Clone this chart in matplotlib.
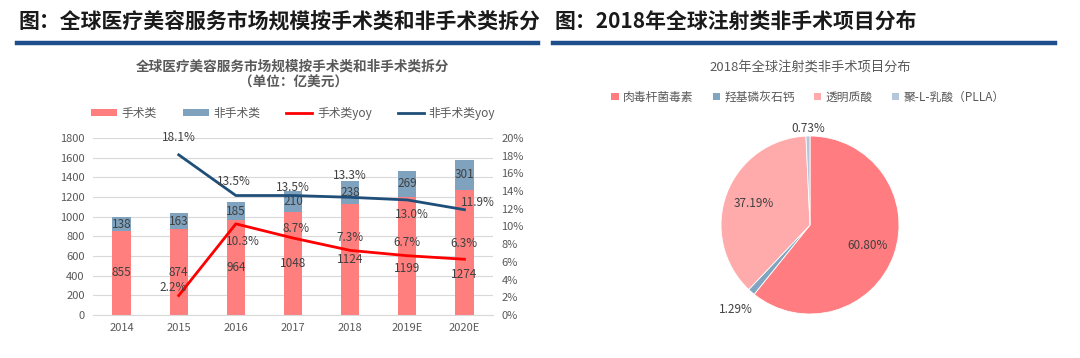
import matplotlib
matplotlib.use("Agg")
import matplotlib.pyplot as plt
import numpy as np
from matplotlib.patches import Patch
from matplotlib.lines import Line2D

plt.rcParams['font.family'] = ['Noto Sans CJK SC', 'DejaVu Sans']

# ---- data ----
years = ['2014', '2015', '2016', '2017', '2018', '2019E', '2020E']
surgical = [855, 874, 964, 1048, 1124, 1199, 1274]
nonsurgical = [138, 163, 185, 210, 238, 269, 301]
yoy_years = ['2015', '2016', '2017', '2018', '2019E', '2020E']
surgical_yoy = [2.2, 10.3, 8.7, 7.3, 6.7, 6.3]
nonsurgical_yoy = [18.1, 13.5, 13.5, 13.3, 13.0, 11.9]

pie_labels = ['肉毒杆菌毒素', '羟基磷灰石钙', '透明质酸', '聚-L-乳酸（PLLA）']
pie_values = [60.80, 1.29, 37.19, 0.73]

# label offsets (pixels)
surg_off = [(-6, 8), (7, -18), (3, 10), (0, 13), (0, 13), (0, 16)]
non_off = [(0, 17), (-2, 14), (0, 8), (0, 22), (5, -15), (13, 7)]
bar_label_dy = [0, 0, 0, 0, 0, -12, -22]

W, H = 1080, 358
fig = plt.figure(figsize=(W / 100, H / 100), dpi=100)

def px(x0, y0, x1, y1):
    return [x0 / W, 1 - y1 / H, (x1 - x0) / W, (y1 - y0) / H]

# ---- headers ----
title_blue = '#1F4E8C'
fig.text(18 / W, 1 - 21 / H, '图：全球医疗美容服务市场规模按手术类和非手术类拆分',
         fontsize=15, fontweight='bold', color='#1a1a1a', va='center', ha='left')
fig.text(555 / W, 1 - 21 / H, '图：2018年全球注射类非手术项目分布',
         fontsize=15, fontweight='bold', color='#1a1a1a', va='center', ha='left')
fig.add_artist(Line2D([17 / W, 538 / W], [1 - 43 / H] * 2, color=title_blue, lw=3.2))
fig.add_artist(Line2D([553 / W, 1055 / W], [1 - 43 / H] * 2, color=title_blue, lw=3.2))

# ---- left chart ----
c_surg = '#FF7F7F'
c_non = '#7FA3BF'
c_line1 = '#FF0000'
c_line2 = '#1F4E79'
gray = '#595959'

fig.text(293 / W, 1 - 67 / H, '全球医疗美容服务市场规模按手术类和非手术类拆分',
         fontsize=9.8, fontweight='bold', color=gray, ha='center', va='center')
fig.text(293 / W, 1 - 83 / H, '（单位：亿美元）',
         fontsize=9.8, fontweight='bold', color=gray, ha='center', va='center')

ax = fig.add_axes(px(93, 138, 493, 315))
x = np.arange(len(years))
b1 = ax.bar(x, surgical, width=0.32, color=c_surg, zorder=2)
b2 = ax.bar(x, nonsurgical, width=0.32, bottom=surgical, color=c_non, zorder=2)
for r, v, dy in zip(b1, surgical, bar_label_dy):
    ax.annotate(str(v), (r.get_x() + r.get_width() / 2, r.get_y() + r.get_height() / 2),
                xytext=(0, dy), textcoords='offset pixels', ha='center', va='center',
                fontsize=8.5, color='#404040')
ax.bar_label(b2, labels=[str(v) for v in nonsurgical], label_type='center',
             fontsize=8.5, color='#404040')
ax.set_ylim(0, 1800)
ax.set_yticks(np.arange(0, 1801, 200))
ax.set_xlim(-0.5, len(years) - 0.5)
ax.set_xticks(x)
ax.set_xticklabels(years)
ax.grid(axis='y', color='#D9D9D9', lw=0.8, zorder=0)
ax.set_axisbelow(True)
for s in ['top', 'left', 'right']:
    ax.spines[s].set_visible(False)
ax.spines['bottom'].set_color('#D9D9D9')
ax.tick_params(axis='both', length=0, labelsize=8, colors=gray, pad=6)

ax2 = ax.twinx()
xi = [years.index(y) for y in yoy_years]
ax2.plot(xi, surgical_yoy, color=c_line1, lw=2, zorder=3)
ax2.plot(xi, nonsurgical_yoy, color=c_line2, lw=2, zorder=3)
ax2.set_ylim(0, 20)
ax2.set_yticks(np.arange(0, 21, 2))
ax2.set_yticklabels([f'{v}%' for v in range(0, 21, 2)])
for s in ['top', 'left', 'right', 'bottom']:
    ax2.spines[s].set_visible(False)
ax2.tick_params(axis='both', length=0, labelsize=8, colors=gray, pad=6)
for xx, v, off in zip(xi, surgical_yoy, surg_off):
    ax2.annotate(f'{v:.1f}%', (xx, v), xytext=off, textcoords='offset pixels',
                 ha='center', va='center', fontsize=8.5, color='#404040')
for xx, v, off in zip(xi, nonsurgical_yoy, non_off):
    ax2.annotate(f'{v:.1f}%', (xx, v), xytext=off, textcoords='offset pixels',
                 ha='center', va='center', fontsize=8.5, color='#404040')

handles = [Patch(facecolor=c_surg, label='手术类'),
           Patch(facecolor=c_non, label='非手术类'),
           Line2D([], [], color=c_line1, lw=2, label='手术类yoy'),
           Line2D([], [], color=c_line2, lw=2, label='非手术类yoy')]
fig.legend(handles=handles, loc='center', bbox_to_anchor=(293 / W, 1 - 113 / H),
           ncol=4, frameon=False, fontsize=8.5, labelcolor=gray,
           handlelength=2.2, handleheight=0.5, columnspacing=2.2, handletextpad=0.4)

# ---- right chart (pie) ----
pie_colors = ['#FF7C80', '#7FA5C0', '#FFABAB', '#B4C7DC']
fig.text(810 / W, 1 - 67 / H, '2018年全球注射类非手术项目分布',
         fontsize=9.5, color=gray, ha='center', va='center')
axp = fig.add_axes(px(721, 136, 899, 314))
wedges, _ = axp.pie(pie_values, colors=pie_colors, startangle=90, counterclock=False,
                    radius=1, wedgeprops=dict(edgecolor='white', linewidth=0.6))
axp.set_xlim(-1, 1)
axp.set_ylim(-1, 1)
axp.set_aspect('equal')
label_dist = [0.69, 1.26, 0.68, 1.08]
for w, v, d in zip(wedges, pie_values, label_dist):
    ang = np.deg2rad((w.theta1 + w.theta2) / 2)
    axp.text(d * np.cos(ang), d * np.sin(ang), f'{v:.2f}%', ha='center', va='center',
             fontsize=8.5, color='#404040', clip_on=False)

ph = [Patch(facecolor=c, label=l) for c, l in zip(pie_colors, pie_labels)]
fig.legend(handles=ph, loc='center', bbox_to_anchor=(808 / W, 1 - 97 / H),
           ncol=4, frameon=False, fontsize=8.5, labelcolor=gray,
           handlelength=0.6, handleheight=0.6, columnspacing=1.6, handletextpad=0.4)

fig.savefig('out.png', dpi=100, facecolor='white')
